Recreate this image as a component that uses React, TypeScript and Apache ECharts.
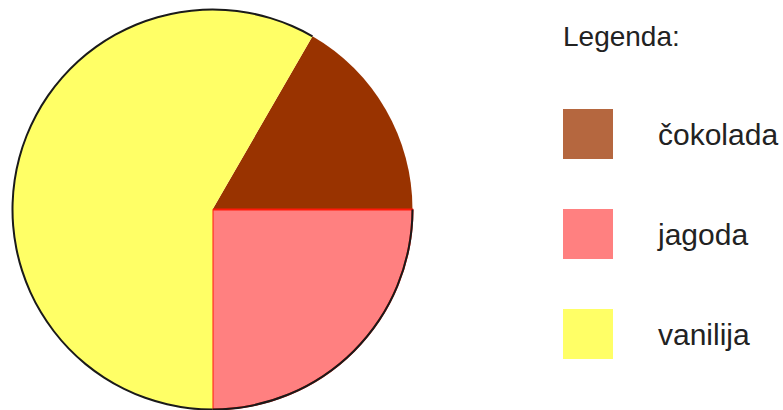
import React, { useEffect, useRef } from "react";
import * as echarts from "echarts";

const categories = ["čokolada", "jagoda", "vanilija"];
const values = [2, 3, 7];
const sliceColors = ["#993300", "#ff8080", "#ffff66"];
const legendColors = ["#b5673f", "#ff8080", "#ffff66"];
const sliceBorders = ["#993300", "#ff1a0a", "#ffff66"];
const sliceBorderWidths = [0, 2, 0];
const outlineColors = ["transparent", "#1a1a1a", "#1a1a1a"];
const legendTitle = "Legenda:";

export default function App() {
  const ref = useRef<HTMLDivElement>(null);
  useEffect(() => {
    document.body.style.margin = "0";
    const chart = echarts.init(ref.current!, undefined, { renderer: "svg" });
    const center = [212.5, 209.5];
    chart.setOption({
      animation: false,
      backgroundColor: "#ffffff",
      title: {
        text: legendTitle,
        left: 563,
        top: 22,
        padding: 0,
        textStyle: {
          fontFamily: "Liberation Sans, Arial, sans-serif",
          fontSize: 28,
          fontWeight: "normal",
          color: "#222222",
        },
      },
      legend: {
        orient: "vertical",
        left: 563,
        top: 109,
        padding: 0,
        itemWidth: 50,
        itemHeight: 50,
        itemGap: 50,
        icon: "rect",
        selectedMode: false,
        data: categories.map((name, i) => ({
          name,
          itemStyle: { color: legendColors[i], borderWidth: 0 },
        })),
        textStyle: {
          fontFamily: "Liberation Sans, Arial, sans-serif",
          fontSize: 30,
          color: "#222222",
          padding: [0, 0, 0, 40],
        },
      },
      series: [
        {
          type: "pie",
          center,
          radius: [0, 200],
          startAngle: 60,
          clockwise: true,
          silent: true,
          label: { show: false },
          labelLine: { show: false },
          emphasis: { disabled: true },
          data: categories.map((name, i) => ({
            name,
            value: values[i],
            itemStyle: {
              color: sliceColors[i],
              borderColor: sliceBorders[i],
              borderWidth: sliceBorderWidths[i],
            },
          })),
        },
        {
          type: "pie",
          center,
          radius: [199, 201],
          startAngle: 60,
          clockwise: true,
          silent: true,
          z: 5,
          label: { show: false },
          labelLine: { show: false },
          emphasis: { disabled: true },
          data: categories.map((name, i) => ({
            name: "outline-" + name,
            value: values[i],
            itemStyle: { color: outlineColors[i], borderWidth: 0 },
          })),
        },
      ],
    });
    return () => chart.dispose();
  }, []);
  return <div ref={ref} style={{ width: 783, height: 410 }} />;
}
